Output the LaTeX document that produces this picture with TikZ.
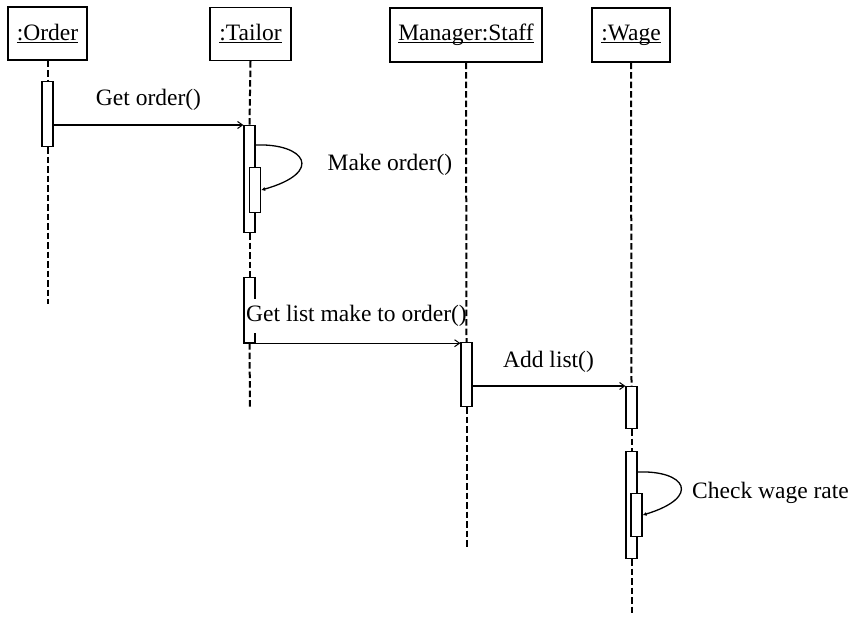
\documentclass[tikz,border=0pt]{standalone}
\usepackage{fontspec}
\setmainfont{Liberation Serif}
\usetikzlibrary{arrows.meta}

% underline at a fixed depth, crossing descenders
\newcommand\objname[1]{\setbox0\hbox{#1}\rlap{\rule[-2.6pt]{\wd0}{1.1pt}}\box0}

\begin{document}
\begin{tikzpicture}[x=1pt,y=-1pt,
  every node/.style={font=\fontsize{23.5}{28}\selectfont},
  objbox/.style={draw,line width=1.3pt,fill=white,inner sep=0pt,minimum height=53pt},
  act/.style={draw,line width=1.2pt,fill=white,inner sep=0pt,minimum width=11pt,anchor=north},
  life/.style={line width=2pt,dash pattern=on 6.5pt off 3pt},
  msg/.style={line width=1.1pt,-{Straight Barb[length=5pt,width=7pt,line width=1pt]}},
  selfmsg/.style={line width=1.3pt,-{Latex[length=4pt,width=4pt]}},
  lbl/.style={inner sep=1pt}]
\useasboundingbox (0,0) rectangle (856,618);

% object heads
\node[objbox,minimum width=79pt] (order) at (47.5,33.5) {\objname{:Order}};
\node[objbox,minimum width=81pt] (tailor) at (250.5,34) {\objname{:Tailor}};
\node[objbox,minimum width=152pt,minimum height=54pt] (manager) at (466,35) {\objname{Manager:Staff}};
\node[objbox,minimum width=78pt,minimum height=54pt] (wage) at (631,35) {\objname{:Wage}};

% activation bars
\node[act,minimum height=65pt] (oa) at (47.5,81) {};
\node[act,minimum height=107pt] (ta) at (249.5,125) {};
\node[act,minimum height=65pt] (ta2) at (249.5,277) {};
\node[act,minimum height=64pt] (ma) at (466.5,342) {};
\node[act,minimum height=42pt] (wa1) at (631.5,386) {};
\node[act,minimum height=107pt] (wa2) at (631.5,451) {};

% lifeline ends
\coordinate (oend) at (47.5,304);
\coordinate (tend) at (250,407);
\coordinate (mend) at (466.5,547);
\coordinate (wend) at (631.5,616);

% lifelines
\draw[life] (order.south) -- (oa.north);
\draw[life] (oa.south) -- (oend);
\draw[life] (tailor.south) -- (ta.north);
\draw[life] (ta.south) -- (ta2.north);
\draw[life] (ta2.south) -- (tend);
\draw[life] (wage.south) -- (wa1.north);
\draw[life] (wa1.south) -- (wa2.north);
\draw[life] (wa2.south) -- (wend);

% nested activations
\node[act,minimum height=45pt] (tn) at (255,167) {};
\node[act,minimum height=43pt] (wn) at (636.5,493) {};

% messages
\draw[msg] (oa.east |- ta.north west) -- (ta.north west);
\node[lbl] (l1) at (148.5,100) {Get order()};

\coordinate (tls) at (255,145);
\draw[selfmsg] (tls) .. controls (305,143) and (325,172) .. (tn.east);
\node[lbl] (l2) at (390,165) {Make order()};

\node[lbl,fill=white,anchor=west,inner ysep=6pt] (l3) at (245,316) {Get list make to order()};
\draw[life] (manager.south) -- (ma.north);
\draw[life] (ma.south) -- (mend);
\draw[msg] (ta2.south west) -- (ta2.south west -| ma.west);

\draw[msg] (ma.east |- wa1.north) -- (wa1.north west);
\node[lbl] (l4) at (548.5,362) {Add list()};

\coordinate (wls) at (637,472);
\draw[selfmsg] (wls) .. controls (686,470) and (702,497) .. (wn.east);
\node[lbl,anchor=west] (l5) at (691,493) {Check wage rate};
\end{tikzpicture}
\end{document}
